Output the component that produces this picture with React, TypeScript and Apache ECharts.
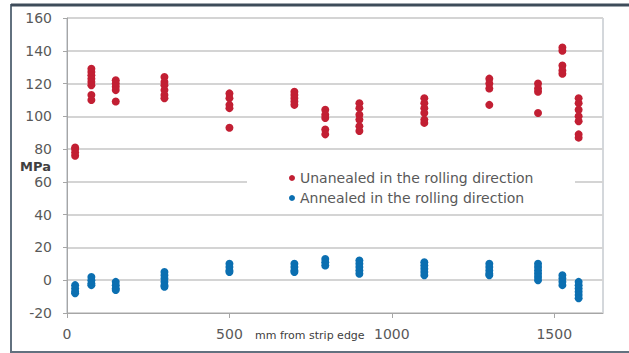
import React, { useEffect, useRef } from "react";
import * as echarts from "echarts";

// Positions across the strip (mm from strip edge)
const positions = [25, 75, 150, 300, 500, 700, 795, 900, 1100, 1300, 1450, 1525, 1575];

// Unannealed, rolling direction (MPa) per position
const unannealedValues = [
  [76, 78, 80, 81],
  [129, 127, 125, 123, 121, 119, 113, 110],
  [122, 120, 118, 116, 109],
  [124, 121, 119, 116, 113, 111],
  [114, 111, 107, 105, 93],
  [115, 113, 111, 109, 107],
  [104, 101, 99, 92, 89],
  [108, 105, 101, 98, 94, 91],
  [111, 108, 105, 102, 98, 96],
  [123, 120, 117, 107],
  [120, 117, 115, 102],
  [142, 140, 131, 128, 126],
  [111, 108, 104, 100, 97, 89, 87],
];

// Annealed, rolling direction (MPa) per position
const annealedValues = [
  [-3, -5, -7, -8],
  [2, 0, -2, -3],
  [-1, -3, -5, -6],
  [5, 3, 1, -1, -3, -4],
  [10, 8, 6, 5],
  [10, 8, 6, 5],
  [13, 11, 9],
  [12, 10, 8, 6, 4],
  [11, 9, 7, 5, 3],
  [10, 8, 6, 4, 3],
  [10, 8, 6, 4, 2, 0],
  [3, 1, -1, -3],
  [-1, -3, -5, -7, -9, -11],
];

const xTicks = [0, 500, 1000, 1500];
const seriesNames = ["Unanealed in the rolling direction", "Annealed in the rolling direction"];
const yAxisTitle = "MPa";
const xAxisTitle = "mm from strip edge";

function toPairs(values: number[][]) {
  const out: [number, number][] = [];
  values.forEach((group, i) => group.forEach((v) => out.push([positions[i], v])));
  return out;
}

export default function App() {
  const ref = useRef<HTMLDivElement>(null);
  useEffect(() => {
    if (!ref.current) return;
    const chart = echarts.init(ref.current, null, { renderer: "svg" });
    const font = "DejaVu Sans";
    chart.setOption({
      animation: false,
      backgroundColor: "#fff",
      grid: {
        left: 67,
        top: 18,
        right: 26,
        bottom: 40,
        show: true,
        borderColor: "#a9b0b8",
        borderWidth: 1,
        backgroundColor: "transparent",
      },
      xAxis: {
        type: "value",
        min: 0,
        max: 1650,
        interval: 500,
        axisLine: { onZero: false, lineStyle: { color: "#a6a6a6", width: 1 } },
        axisTick: { show: true, length: 5, customValues: xTicks, lineStyle: { color: "#a6a6a6" } },
        axisLabel: {
          customValues: xTicks,
          formatter: (v: number) => String(v),
          margin: 14,
          color: "#595959",
          fontSize: 14,
          fontFamily: font,
        },
        splitLine: { show: false },
      },
      yAxis: {
        type: "value",
        min: -20,
        max: 160,
        interval: 20,
        axisLine: { show: true, lineStyle: { color: "#a6a6a6", width: 1 } },
        axisTick: { show: true, length: 4, lineStyle: { color: "#a6a6a6" } },
        axisLabel: { margin: 15, color: "#595959", fontSize: 14, fontFamily: font },
        splitLine: { show: true, lineStyle: { color: "#d4d4d4", width: 2 } },
      },
      legend: {
        orient: "vertical",
        left: 284,
        top: 166,
        itemWidth: 6,
        itemHeight: 6,
        itemGap: 6,
        icon: "circle",
        textStyle: { color: "#595959", fontSize: 14, fontFamily: font },
        data: seriesNames,
      },
      graphic: [
        {
          type: "rect",
          z: 3,
          shape: { x: 247, y: 154, width: 328, height: 55 },
          style: { fill: "#ffffff" },
          silent: true,
        },
        {
          type: "rect",
          z: 10,
          shape: { x: 11, y: 5, width: 640, height: 347 },
          style: { fill: "none", stroke: "#62717f", lineWidth: 2 },
          silent: true,
        },
        {
          type: "line",
          z: 10,
          shape: { x1: 11, y1: 5, x2: 640, y2: 5 },
          style: { stroke: "#3e4c5a", lineWidth: 3 },
          silent: true,
        },
        {
          type: "text",
          z: 10,
          x: 51,
          y: 166,
          style: {
            text: yAxisTitle,
            fill: "#404040",
            font: `bold 13px '${font}'`,
            align: "right",
            verticalAlign: "middle",
          },
        },
        {
          type: "text",
          z: 10,
          x: 255,
          y: 335,
          style: {
            text: xAxisTitle,
            fill: "#404040",
            font: `11px '${font}'`,
            align: "left",
            verticalAlign: "middle",
          },
        },
      ],
      series: [
        {
          name: seriesNames[0],
          type: "scatter",
          symbol: "circle",
          symbolSize: 8,
          itemStyle: { color: "#c21f33", opacity: 1 },
          data: toPairs(unannealedValues),
        },
        {
          name: seriesNames[1],
          type: "scatter",
          symbol: "circle",
          symbolSize: 8,
          itemStyle: { color: "#0b6fb1", opacity: 1 },
          data: toPairs(annealedValues),
        },
      ],
    });
    return () => chart.dispose();
  }, []);
  return (
    <div style={{ position: "absolute", left: 0, top: 0, width: 629, height: 353, background: "#fff" }}>
      <div ref={ref} style={{ width: 629, height: 353 }} />
    </div>
  );
}
